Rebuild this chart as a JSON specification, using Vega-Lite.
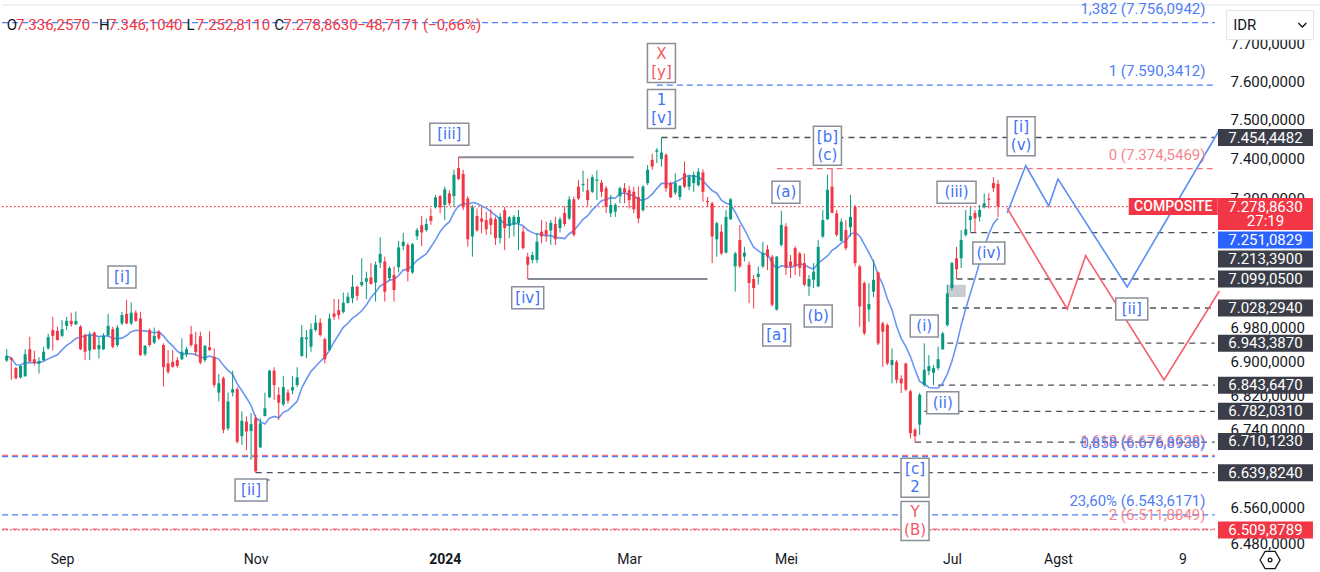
{
"$schema":"https://vega.github.io/schema/vega-lite/v6.json",
"width":1320,"height":572,"padding":0,"autosize":{"type":"none"},"background":"#ffffff",
"config":{"view":{"stroke":null},"font":"Roboto","locale":{"number":{"decimal":",","thousands":".","grouping":[3],"currency":["",""]}}},
"datasets":{
"candles":[
{"d":"2023-08-15","o":6902,"h":6929,"l":6899,"c":6913},
{"d":"2023-08-16","o":6907,"h":6910,"l":6856,"c":6903},
{"d":"2023-08-18","o":6884,"h":6887,"l":6857,"c":6860},
{"d":"2023-08-21","o":6862,"h":6891,"l":6859,"c":6889},
{"d":"2023-08-22","o":6865,"h":6929,"l":6863,"c":6917},
{"d":"2023-08-23","o":6929,"h":6959,"l":6897,"c":6900},
{"d":"2023-08-24","o":6905,"h":6925,"l":6890,"c":6896},
{"d":"2023-08-25","o":6894,"h":6910,"l":6871,"c":6901},
{"d":"2023-08-28","o":6903,"h":6935,"l":6901,"c":6923},
{"d":"2023-08-29","o":6931,"h":6966,"l":6928,"c":6958},
{"d":"2023-08-30","o":6975,"h":7007,"l":6926,"c":6961},
{"d":"2023-08-31","o":6973,"h":6983,"l":6950,"c":6951},
{"d":"2023-09-01","o":6961,"h":6999,"l":6958,"c":6977},
{"d":"2023-09-04","o":6985,"h":7007,"l":6975,"c":6997},
{"d":"2023-09-05","o":6997,"h":7017,"l":6983,"c":6989},
{"d":"2023-09-06","o":6989,"h":7020,"l":6987,"c":6997},
{"d":"2023-09-07","o":6983,"h":6987,"l":6927,"c":6929},
{"d":"2023-09-08","o":6963,"h":6967,"l":6903,"c":6923},
{"d":"2023-09-11","o":6926,"h":6971,"l":6903,"c":6963},
{"d":"2023-09-12","o":6969,"h":6971,"l":6927,"c":6929},
{"d":"2023-09-13","o":6929,"h":6959,"l":6907,"c":6939},
{"d":"2023-09-14","o":6929,"h":6967,"l":6927,"c":6961},
{"d":"2023-09-15","o":6963,"h":7014,"l":6958,"c":6985},
{"d":"2023-09-18","o":6977,"h":6983,"l":6931,"c":6935},
{"d":"2023-09-19","o":6939,"h":6987,"l":6934,"c":6981},
{"d":"2023-09-20","o":6991,"h":7019,"l":6987,"c":7011},
{"d":"2023-09-21","o":7014,"h":7048,"l":6989,"c":6991},
{"d":"2023-09-22","o":6991,"h":7042,"l":6987,"c":7017},
{"d":"2023-09-25","o":7017,"h":7023,"l":6995,"c":6997},
{"d":"2023-09-26","o":7003,"h":7019,"l":6913,"c":6915},
{"d":"2023-09-27","o":6917,"h":6939,"l":6913,"c":6937},
{"d":"2023-09-29","o":6975,"h":6979,"l":6935,"c":6939},
{"d":"2023-10-02","o":6945,"h":6981,"l":6941,"c":6961},
{"d":"2023-10-03","o":6971,"h":6975,"l":6951,"c":6955},
{"d":"2023-10-04","o":6939,"h":6943,"l":6840,"c":6886},
{"d":"2023-10-05","o":6895,"h":6927,"l":6870,"c":6875},
{"d":"2023-10-06","o":6899,"h":6927,"l":6885,"c":6887},
{"d":"2023-10-09","o":6903,"h":6910,"l":6885,"c":6889},
{"d":"2023-10-10","o":6905,"h":6955,"l":6903,"c":6923},
{"d":"2023-10-11","o":6917,"h":6935,"l":6910,"c":6929},
{"d":"2023-10-12","o":6965,"h":6985,"l":6935,"c":6939},
{"d":"2023-10-13","o":6941,"h":6971,"l":6913,"c":6922},
{"d":"2023-10-16","o":6960,"h":6971,"l":6893,"c":6897},
{"d":"2023-10-17","o":6903,"h":6939,"l":6898,"c":6937},
{"d":"2023-10-18","o":6934,"h":6972,"l":6925,"c":6927},
{"d":"2023-10-19","o":6911,"h":6931,"l":6838,"c":6844},
{"d":"2023-10-20","o":6826,"h":6870,"l":6805,"c":6848},
{"d":"2023-10-23","o":6860,"h":6864,"l":6731,"c":6739},
{"d":"2023-10-24","o":6742,"h":6826,"l":6737,"c":6805},
{"d":"2023-10-25","o":6826,"h":6878,"l":6817,"c":6834},
{"d":"2023-10-26","o":6834,"h":6839,"l":6707,"c":6711},
{"d":"2023-10-27","o":6724,"h":6782,"l":6704,"c":6760},
{"d":"2023-10-30","o":6758,"h":6770,"l":6692,"c":6735},
{"d":"2023-10-31","o":6736,"h":6778,"l":6669,"c":6752},
{"d":"2023-11-01","o":6766,"h":6774,"l":6639.824,"c":6643},
{"d":"2023-11-02","o":6698,"h":6766,"l":6697,"c":6754},
{"d":"2023-11-03","o":6771,"h":6826,"l":6770,"c":6789},
{"d":"2023-11-06","o":6815,"h":6880,"l":6813,"c":6878},
{"d":"2023-11-07","o":6878,"h":6886,"l":6809,"c":6844},
{"d":"2023-11-08","o":6821,"h":6839,"l":6762,"c":6802},
{"d":"2023-11-09","o":6798,"h":6865,"l":6794,"c":6839},
{"d":"2023-11-10","o":6826,"h":6834,"l":6800,"c":6807},
{"d":"2023-11-13","o":6831,"h":6865,"l":6822,"c":6839},
{"d":"2023-11-14","o":6844,"h":6886,"l":6839,"c":6862},
{"d":"2023-11-15","o":6913,"h":6987,"l":6911,"c":6958},
{"d":"2023-11-16","o":6953,"h":6975,"l":6907,"c":6957},
{"d":"2023-11-17","o":6935,"h":6991,"l":6923,"c":6977},
{"d":"2023-11-20","o":6975,"h":7011,"l":6971,"c":6993},
{"d":"2023-11-21","o":6993,"h":7003,"l":6959,"c":6963},
{"d":"2023-11-22","o":6953,"h":6957,"l":6895,"c":6905},
{"d":"2023-11-23","o":6927,"h":7015,"l":6926,"c":7003},
{"d":"2023-11-24","o":7015,"h":7050,"l":6999,"c":7007},
{"d":"2023-11-27","o":7023,"h":7050,"l":7001,"c":7011},
{"d":"2023-11-28","o":7019,"h":7066,"l":7015,"c":7041},
{"d":"2023-11-29","o":7041,"h":7066,"l":7039,"c":7056},
{"d":"2023-11-30","o":7052,"h":7109,"l":7040,"c":7080},
{"d":"2023-12-01","o":7080,"h":7083,"l":7047,"c":7058},
{"d":"2023-12-04","o":7084,"h":7150,"l":7080,"c":7092},
{"d":"2023-12-05","o":7092,"h":7117,"l":7050,"c":7101},
{"d":"2023-12-06","o":7103,"h":7138,"l":7085,"c":7087},
{"d":"2023-12-07","o":7090,"h":7142,"l":7044,"c":7134},
{"d":"2023-12-08","o":7139,"h":7202,"l":7126,"c":7161},
{"d":"2023-12-11","o":7142,"h":7154,"l":7044,"c":7068},
{"d":"2023-12-12","o":7101,"h":7130,"l":7095,"c":7126},
{"d":"2023-12-13","o":7109,"h":7130,"l":7044,"c":7072},
{"d":"2023-12-14","o":7128,"h":7193,"l":7115,"c":7177},
{"d":"2023-12-15","o":7180,"h":7213,"l":7170,"c":7191},
{"d":"2023-12-18","o":7183,"h":7188,"l":7093,"c":7117},
{"d":"2023-12-19","o":7115,"h":7188,"l":7112,"c":7185},
{"d":"2023-12-20","o":7205,"h":7225,"l":7195,"c":7220},
{"d":"2023-12-21","o":7232,"h":7255,"l":7180,"c":7214},
{"d":"2023-12-22","o":7220,"h":7249,"l":7216,"c":7235},
{"d":"2023-12-27","o":7255,"h":7274,"l":7233,"c":7243},
{"d":"2023-12-28","o":7277,"h":7308,"l":7274,"c":7302},
{"d":"2023-12-29","o":7305,"h":7308,"l":7262,"c":7277},
{"d":"2024-01-02","o":7283,"h":7329,"l":7245,"c":7322},
{"d":"2024-01-03","o":7312,"h":7320,"l":7280,"c":7287},
{"d":"2024-01-04","o":7305,"h":7372,"l":7277,"c":7359},
{"d":"2024-01-05","o":7376,"h":7404,"l":7346,"c":7348},
{"d":"2024-01-08","o":7361,"h":7372,"l":7270,"c":7277},
{"d":"2024-01-09","o":7299,"h":7305,"l":7179,"c":7197},
{"d":"2024-01-10","o":7204,"h":7283,"l":7154,"c":7277},
{"d":"2024-01-11","o":7255,"h":7274,"l":7216,"c":7219},
{"d":"2024-01-12","o":7249,"h":7278,"l":7212,"c":7241},
{"d":"2024-01-15","o":7245,"h":7266,"l":7208,"c":7222},
{"d":"2024-01-16","o":7249,"h":7272,"l":7208,"c":7233},
{"d":"2024-01-17","o":7247,"h":7253,"l":7183,"c":7200},
{"d":"2024-01-18","o":7200,"h":7262,"l":7187,"c":7253},
{"d":"2024-01-19","o":7270,"h":7278,"l":7170,"c":7225},
{"d":"2024-01-22","o":7230,"h":7255,"l":7200,"c":7252},
{"d":"2024-01-23","o":7233,"h":7258,"l":7204,"c":7253},
{"d":"2024-01-24","o":7237,"h":7270,"l":7170,"c":7253},
{"d":"2024-01-25","o":7216,"h":7229,"l":7172,"c":7175},
{"d":"2024-01-26","o":7154,"h":7164,"l":7099,"c":7134},
{"d":"2024-01-29","o":7146,"h":7166,"l":7138,"c":7158},
{"d":"2024-01-30","o":7146,"h":7212,"l":7138,"c":7191},
{"d":"2024-01-31","o":7216,"h":7245,"l":7187,"c":7204},
{"d":"2024-02-01","o":7220,"h":7241,"l":7191,"c":7208},
{"d":"2024-02-02","o":7219,"h":7245,"l":7183,"c":7238},
{"d":"2024-02-05","o":7235,"h":7253,"l":7183,"c":7197},
{"d":"2024-02-06","o":7225,"h":7253,"l":7214,"c":7247},
{"d":"2024-02-07","o":7263,"h":7280,"l":7229,"c":7235},
{"d":"2024-02-12","o":7249,"h":7305,"l":7245,"c":7297},
{"d":"2024-02-13","o":7297,"h":7304,"l":7204,"c":7208},
{"d":"2024-02-15","o":7329,"h":7346,"l":7295,"c":7299},
{"d":"2024-02-16","o":7333,"h":7370,"l":7316,"c":7336},
{"d":"2024-02-19","o":7320,"h":7350,"l":7280,"c":7295},
{"d":"2024-02-20","o":7316,"h":7359,"l":7313,"c":7353},
{"d":"2024-02-21","o":7344,"h":7370,"l":7295,"c":7347},
{"d":"2024-02-22","o":7339,"h":7346,"l":7303,"c":7316},
{"d":"2024-02-23","o":7325,"h":7331,"l":7263,"c":7278},
{"d":"2024-02-26","o":7262,"h":7308,"l":7252,"c":7283},
{"d":"2024-02-27","o":7266,"h":7287,"l":7253,"c":7283},
{"d":"2024-02-28","o":7305,"h":7329,"l":7287,"c":7325},
{"d":"2024-02-29","o":7325,"h":7338,"l":7287,"c":7314},
{"d":"2024-03-01","o":7320,"h":7331,"l":7274,"c":7295},
{"d":"2024-03-04","o":7316,"h":7329,"l":7262,"c":7272},
{"d":"2024-03-05","o":7303,"h":7329,"l":7237,"c":7249},
{"d":"2024-03-06","o":7270,"h":7333,"l":7266,"c":7329},
{"d":"2024-03-07","o":7338,"h":7384,"l":7333,"c":7372},
{"d":"2024-03-08","o":7397,"h":7413,"l":7372,"c":7380},
{"d":"2024-03-13","o":7418,"h":7427,"l":7389,"c":7422},
{"d":"2024-03-14","o":7399,"h":7454.4482,"l":7380,"c":7416},
{"d":"2024-03-15","o":7410,"h":7414,"l":7316,"c":7325},
{"d":"2024-03-18","o":7338,"h":7342,"l":7300,"c":7302},
{"d":"2024-03-19","o":7314,"h":7363,"l":7308,"c":7338},
{"d":"2024-03-20","o":7303,"h":7333,"l":7295,"c":7331},
{"d":"2024-03-21","o":7363,"h":7393,"l":7325,"c":7329},
{"d":"2024-03-22","o":7329,"h":7359,"l":7320,"c":7354},
{"d":"2024-03-25","o":7338,"h":7367,"l":7316,"c":7359},
{"d":"2024-03-26","o":7333,"h":7376,"l":7329,"c":7367},
{"d":"2024-03-27","o":7365,"h":7373,"l":7291,"c":7316},
{"d":"2024-03-28","o":7293,"h":7303,"l":7278,"c":7290},
{"d":"2024-04-01","o":7287,"h":7291,"l":7138,"c":7204},
{"d":"2024-04-02","o":7197,"h":7241,"l":7154,"c":7237},
{"d":"2024-04-03","o":7216,"h":7233,"l":7158,"c":7162},
{"d":"2024-04-04","o":7164,"h":7270,"l":7162,"c":7253},
{"d":"2024-04-05","o":7247,"h":7300,"l":7245,"c":7297},
{"d":"2024-04-16","o":7130,"h":7166,"l":7068,"c":7162},
{"d":"2024-04-17","o":7195,"h":7233,"l":7126,"c":7130},
{"d":"2024-04-18","o":7154,"h":7178,"l":7142,"c":7164},
{"d":"2024-04-19","o":7134,"h":7142,"l":7040,"c":7089},
{"d":"2024-04-22","o":7099,"h":7109,"l":7027,"c":7077},
{"d":"2024-04-23","o":7104,"h":7130,"l":7085,"c":7112},
{"d":"2024-04-24","o":7130,"h":7191,"l":7126,"c":7164},
{"d":"2024-04-25","o":7172,"h":7183,"l":7121,"c":7154},
{"d":"2024-04-26","o":7154,"h":7158,"l":7032,"c":7036},
{"d":"2024-04-29","o":7024,"h":7156,"l":7022,"c":7154},
{"d":"2024-04-30","o":7183,"h":7268,"l":7179,"c":7233},
{"d":"2024-05-02","o":7229,"h":7237,"l":7109,"c":7126},
{"d":"2024-05-03","o":7142,"h":7158,"l":7101,"c":7130},
{"d":"2024-05-06","o":7175,"h":7180,"l":7109,"c":7130},
{"d":"2024-05-07","o":7162,"h":7166,"l":7105,"c":7126},
{"d":"2024-05-08","o":7138,"h":7162,"l":7081,"c":7085},
{"d":"2024-05-13","o":7081,"h":7109,"l":7058,"c":7099},
{"d":"2024-05-14","o":7097,"h":7138,"l":7077,"c":7117},
{"d":"2024-05-15","o":7081,"h":7195,"l":7079,"c":7178},
{"d":"2024-05-16","o":7204,"h":7270,"l":7200,"c":7245},
{"d":"2024-05-17","o":7247,"h":7359,"l":7245,"c":7321},
{"d":"2024-05-20","o":7329,"h":7374.5469,"l":7262,"c":7263},
{"d":"2024-05-21","o":7262,"h":7270,"l":7204,"c":7208},
{"d":"2024-05-22","o":7193,"h":7249,"l":7191,"c":7241},
{"d":"2024-05-27","o":7220,"h":7245,"l":7170,"c":7175},
{"d":"2024-05-28","o":7227,"h":7308,"l":7204,"c":7253},
{"d":"2024-05-29","o":7278,"h":7283,"l":7130,"c":7138},
{"d":"2024-05-30","o":7130,"h":7134,"l":6983,"c":7032},
{"d":"2024-05-31","o":7089,"h":7093,"l":6963,"c":6967},
{"d":"2024-06-03","o":7025,"h":7089,"l":6995,"c":7038},
{"d":"2024-06-04","o":7068,"h":7146,"l":7055,"c":7097},
{"d":"2024-06-05","o":7115,"h":7117,"l":6939,"c":6943},
{"d":"2024-06-06","o":6991,"h":6995,"l":6887,"c":6971},
{"d":"2024-06-07","o":6987,"h":6991,"l":6891,"c":6895},
{"d":"2024-06-10","o":6891,"h":6931,"l":6848,"c":6903},
{"d":"2024-06-11","o":6899,"h":6903,"l":6848,"c":6856},
{"d":"2024-06-12","o":6859,"h":6867,"l":6825,"c":6848},
{"d":"2024-06-13","o":6895,"h":6897,"l":6829,"c":6833},
{"d":"2024-06-14","o":6829,"h":6833,"l":6719,"c":6731},
{"d":"2024-06-19","o":6739,"h":6743,"l":6710.123,"c":6724},
{"d":"2024-06-20","o":6751,"h":6825,"l":6727,"c":6821},
{"d":"2024-06-21","o":6844,"h":6943,"l":6840,"c":6880},
{"d":"2024-06-24","o":6877,"h":6915,"l":6867,"c":6889},
{"d":"2024-06-25","o":6873,"h":6891,"l":6843.647,"c":6884},
{"d":"2024-06-26","o":6884,"h":6935,"l":6879,"c":6905},
{"d":"2024-06-27","o":6929,"h":6971,"l":6927,"c":6967},
{"d":"2024-06-28","o":6987,"h":7085,"l":6983,"c":7064},
{"d":"2024-07-01","o":7077,"h":7142,"l":7072,"c":7138},
{"d":"2024-07-02","o":7150,"h":7178,"l":7099.05,"c":7123},
{"d":"2024-07-03","o":7150,"h":7220,"l":7126,"c":7195},
{"d":"2024-07-04","o":7208,"h":7270,"l":7204,"c":7222},
{"d":"2024-07-05","o":7245,"h":7278,"l":7216,"c":7255},
{"d":"2024-07-08","o":7263,"h":7270,"l":7213.39,"c":7249},
{"d":"2024-07-09","o":7253,"h":7283,"l":7241,"c":7270},
{"d":"2024-07-10","o":7277,"h":7312,"l":7274,"c":7287},
{"d":"2024-07-11","o":7299,"h":7312,"l":7274,"c":7296},
{"d":"2024-07-12","o":7338,"h":7353,"l":7316,"c":7325},
{"d":"2024-07-15","o":7336.257,"h":7346.104,"l":7252.811,"c":7278.863}
],
"levels":[
{"p":7756.0942,"d":"2023-08-14","d2":"2024-09-18","k":"fib"},
{"p":7590.3412,"d":"2024-03-13","d2":"2024-09-18","k":"fib"},
{"p":7454.4482,"d":"2024-03-14","d2":"2024-09-18","k":"lvl"},
{"p":7374.5469,"d":"2024-04-29","d2":"2024-09-18","k":"fibred"},
{"p":7278.863,"d":"2023-08-14","d2":"2024-09-18","k":"last"},
{"p":7213.39,"d":"2024-07-05","d2":"2024-09-18","k":"lvl"},
{"p":7099.05,"d":"2024-07-02","d2":"2024-09-18","k":"lvl"},
{"p":7028.294,"d":"2024-07-01","d2":"2024-09-18","k":"lvl"},
{"p":6943.387,"d":"2024-06-28","d2":"2024-09-18","k":"lvl"},
{"p":6843.647,"d":"2024-06-26","d2":"2024-09-18","k":"lvl"},
{"p":6782.031,"d":"2024-06-21","d2":"2024-09-18","k":"lvl"},
{"p":6710.123,"d":"2024-06-19","d2":"2024-09-18","k":"lvl"},
{"p":6679.5,"d":"2023-08-14","d2":"2024-09-18","k":"fibred"},
{"p":6676.8938,"d":"2023-08-14","d2":"2024-09-18","k":"fib"},
{"p":6639.824,"d":"2023-11-01","d2":"2024-09-18","k":"lvl"},
{"p":6543.6171,"d":"2023-08-14","d2":"2024-09-18","k":"fib"},
{"p":6511.8849,"d":"2023-08-14","d2":"2024-09-18","k":"fibred"},
{"p":6509.8789,"d":"2023-08-14","d2":"2024-09-18","k":"last"},
{"p":7803.4,"d":"2023-08-14","d2":"2024-10-21","k":"border"}
],
"trend":[
{"d":"2024-01-05","d2":"2024-03-04","p":7403.5},
{"d":"2024-01-26","d2":"2024-03-28","p":7099},
{"d":"2023-10-26","d2":"2023-11-06","p":6623}
],
"zone":[{"d":"2024-06-28","d2":"2024-07-04","p1":7055,"p2":7085}],
"proj":[
{"d":"2024-07-17","p":7262.6,"path":"b"},
{"d":"2024-07-23","p":7382.2,"path":"b"},
{"d":"2024-07-30","p":7280.2,"path":"b"},
{"d":"2024-08-01","p":7348.4,"path":"b"},
{"d":"2024-08-22","p":7079.5,"path":"b"},
{"d":"2024-09-19","p":7473.8,"path":"b"},
{"d":"2024-07-17","p":7274.4,"path":"r"},
{"d":"2024-08-05","p":7025.9,"path":"r"},
{"d":"2024-08-09","p":7156.4,"path":"r"},
{"d":"2024-09-03","p":6855.7,"path":"r"},
{"d":"2024-09-19","p":7069.7,"path":"r"}
],
"lvlLabels":[
{"t":"1,382 (7.756,0942)","d":"2024-09-16","p":7756.0942,"g":"b"},
{"t":"1 (7.590,3412)","d":"2024-09-16","p":7590.3412,"g":"b"},
{"t":"0 (7.374,5469)","d":"2024-09-16","p":7374.5469,"g":"r"},
{"t":"1,618 (6.676,6528)","d":"2024-09-16","p":6679.5,"g":"r"},
{"t":"0,858 (6.676,8938)","d":"2024-09-16","p":6676.8938,"g":"b"},
{"t":"23,60% (6.543,6171)","d":"2024-09-16","p":6543.6171,"g":"b"},
{"t":"2 (6.511,8849)","d":"2024-09-16","p":6511.8849,"g":"r"}
],
"waves":[
{"t":"[i]","d":"2023-09-20","p":7104,"g":"b"},
{"t":"[ii]","d":"2023-10-31","p":6600,"g":"b"},
{"t":"[iii]","d":"2024-01-03","p":7463,"g":"b"},
{"t":"[iv]","d":"2024-01-26","p":7053,"g":"b"},
{"t":"1|[v]","d":"2024-03-14","p":7528,"g":"b"},
{"t":"X|[y]","d":"2024-03-14","p":7649,"g":"r"},
{"t":"[b]|(c)","d":"2024-05-17","p":7433,"g":"b"},
{"t":"(a)","d":"2024-05-02","p":7315,"g":"b"},
{"t":"[a]","d":"2024-04-29","p":6963,"g":"b"},
{"t":"(b)","d":"2024-05-15","p":7009,"g":"b"},
{"t":"(i)","d":"2024-06-21","p":6985,"g":"b"},
{"t":"(ii)","d":"2024-06-27","p":6802,"g":"b"},
{"t":"(iii)","d":"2024-07-02","p":7315,"g":"b"},
{"t":"(iv)","d":"2024-07-11","p":7163,"g":"b"},
{"t":"[i]|(v)","d":"2024-07-22","p":7458,"g":"b"},
{"t":"[ii]","d":"2024-08-23","p":7026,"g":"b"},
{"t":"[c]|2","d":"2024-06-19","p":6628,"g":"b"},
{"t":"Y|(B)","d":"2024-06-19","p":6530,"g":"r"}
],
"header":[
{"t":"O","d":"2023-08-15","k":"key"},
{"t":"7.336,2570","d":"2023-08-18","k":"val"},
{"t":"H","d":"2023-09-13","k":"key"},
{"t":"7.346,1040","d":"2023-09-15","k":"val"},
{"t":"L","d":"2023-10-11","k":"key"},
{"t":"7.252,8110","d":"2023-10-13","k":"val"},
{"t":"C","d":"2023-11-07","k":"key"},
{"t":"7.278,8630","d":"2023-11-09","k":"val"},
{"t":"−48,7171 (−0,66%)","d":"2023-12-01","k":"val"}
],
"tags":[
{"t":"7.454,4482","d":"2024-10-03","at":7454.45,"k":"dark"},
{"t":"7.278,8630|27:19","d":"2024-10-03","at":7260.1,"k":"red2"},
{"t":"7.251,0829","d":"2024-10-03","at":7195.3,"k":"blue"},
{"t":"7.213,3900","d":"2024-10-03","at":7148.1,"k":"dark"},
{"t":"7.099,0500","d":"2024-10-03","at":7099.0,"k":"dark"},
{"t":"7.028,2940","d":"2024-10-03","at":7028.3,"k":"dark"},
{"t":"6.943,3870","d":"2024-10-03","at":6943.4,"k":"dark"},
{"t":"6.843,6470","d":"2024-10-03","at":6843.6,"k":"dark"},
{"t":"6.782,0310","d":"2024-10-03","at":6782.0,"k":"dark"},
{"t":"6.710,1230","d":"2024-10-03","at":6712.0,"k":"dark"},
{"t":"6.639,8240","d":"2024-10-03","at":6639.8,"k":"dark"},
{"t":"6.509,8789","d":"2024-10-03","at":6509.9,"k":"red"}
],
"ui":[
{"t":"COMPOSITE","d":"2024-09-05","p":7278.863,"k":"comp"},
{"t":"IDR","d":"2024-10-04","p":7749.5,"k":"box"},
{"t":"IDR","d":"2024-09-24","p":7749.5,"k":"idr"},
{"t":"","d":"2024-10-15","p":7749.5,"k":"chev"},
{"t":"","d":"2024-10-04","p":6442.7,"k":"gear"}
]
},
"encoding":{"x":{"field":"d","type":"ordinal",
 "scale":{"type":"point","padding":0,"range":[2.09,1320.8],"domain":["2023-08-14","2023-08-15","2023-08-16","2023-08-18","2023-08-21","2023-08-22","2023-08-23","2023-08-24","2023-08-25","2023-08-28","2023-08-29","2023-08-30","2023-08-31","2023-09-01","2023-09-04","2023-09-05","2023-09-06","2023-09-07","2023-09-08","2023-09-11","2023-09-12","2023-09-13","2023-09-14","2023-09-15","2023-09-18","2023-09-19","2023-09-20","2023-09-21","2023-09-22","2023-09-25","2023-09-26","2023-09-27","2023-09-29","2023-10-02","2023-10-03","2023-10-04","2023-10-05","2023-10-06","2023-10-09","2023-10-10","2023-10-11","2023-10-12","2023-10-13","2023-10-16","2023-10-17","2023-10-18","2023-10-19","2023-10-20","2023-10-23","2023-10-24","2023-10-25","2023-10-26","2023-10-27","2023-10-30","2023-10-31","2023-11-01","2023-11-02","2023-11-03","2023-11-06","2023-11-07","2023-11-08","2023-11-09","2023-11-10","2023-11-13","2023-11-14","2023-11-15","2023-11-16","2023-11-17","2023-11-20","2023-11-21","2023-11-22","2023-11-23","2023-11-24","2023-11-27","2023-11-28","2023-11-29","2023-11-30","2023-12-01","2023-12-04","2023-12-05","2023-12-06","2023-12-07","2023-12-08","2023-12-11","2023-12-12","2023-12-13","2023-12-14","2023-12-15","2023-12-18","2023-12-19","2023-12-20","2023-12-21","2023-12-22","2023-12-27","2023-12-28","2023-12-29","2024-01-02","2024-01-03","2024-01-04","2024-01-05","2024-01-08","2024-01-09","2024-01-10","2024-01-11","2024-01-12","2024-01-15","2024-01-16","2024-01-17","2024-01-18","2024-01-19","2024-01-22","2024-01-23","2024-01-24","2024-01-25","2024-01-26","2024-01-29","2024-01-30","2024-01-31","2024-02-01","2024-02-02","2024-02-05","2024-02-06","2024-02-07","2024-02-12","2024-02-13","2024-02-15","2024-02-16","2024-02-19","2024-02-20","2024-02-21","2024-02-22","2024-02-23","2024-02-26","2024-02-27","2024-02-28","2024-02-29","2024-03-01","2024-03-04","2024-03-05","2024-03-06","2024-03-07","2024-03-08","2024-03-13","2024-03-14","2024-03-15","2024-03-18","2024-03-19","2024-03-20","2024-03-21","2024-03-22","2024-03-25","2024-03-26","2024-03-27","2024-03-28","2024-04-01","2024-04-02","2024-04-03","2024-04-04","2024-04-05","2024-04-16","2024-04-17","2024-04-18","2024-04-19","2024-04-22","2024-04-23","2024-04-24","2024-04-25","2024-04-26","2024-04-29","2024-04-30","2024-05-02","2024-05-03","2024-05-06","2024-05-07","2024-05-08","2024-05-13","2024-05-14","2024-05-15","2024-05-16","2024-05-17","2024-05-20","2024-05-21","2024-05-22","2024-05-27","2024-05-28","2024-05-29","2024-05-30","2024-05-31","2024-06-03","2024-06-04","2024-06-05","2024-06-06","2024-06-07","2024-06-10","2024-06-11","2024-06-12","2024-06-13","2024-06-14","2024-06-19","2024-06-20","2024-06-21","2024-06-24","2024-06-25","2024-06-26","2024-06-27","2024-06-28","2024-07-01","2024-07-02","2024-07-03","2024-07-04","2024-07-05","2024-07-08","2024-07-09","2024-07-10","2024-07-11","2024-07-12","2024-07-15","2024-07-16","2024-07-17","2024-07-18","2024-07-19","2024-07-22","2024-07-23","2024-07-24","2024-07-25","2024-07-26","2024-07-29","2024-07-30","2024-07-31","2024-08-01","2024-08-02","2024-08-05","2024-08-06","2024-08-07","2024-08-08","2024-08-09","2024-08-12","2024-08-13","2024-08-14","2024-08-15","2024-08-16","2024-08-19","2024-08-20","2024-08-21","2024-08-22","2024-08-23","2024-08-26","2024-08-27","2024-08-28","2024-08-29","2024-08-30","2024-09-02","2024-09-03","2024-09-04","2024-09-05","2024-09-06","2024-09-09","2024-09-10","2024-09-11","2024-09-12","2024-09-13","2024-09-16","2024-09-17","2024-09-18","2024-09-19","2024-09-20","2024-09-23","2024-09-24","2024-09-25","2024-09-26","2024-09-27","2024-09-30","2024-10-01","2024-10-02","2024-10-03","2024-10-04","2024-10-07","2024-10-08","2024-10-09","2024-10-10","2024-10-11","2024-10-14","2024-10-15","2024-10-16","2024-10-17","2024-10-18","2024-10-21"]},
 "axis":{"values":["2023-09-01","2023-11-01","2024-01-02","2024-03-01","2024-05-02","2024-07-01","2024-08-01","2024-09-09"],
  "title":null,"orient":"bottom","offset":-24,"domain":false,"ticks":false,"grid":false,"labelPadding":4,"labelFontSize":14,"labelColor":"#131722","labelFont":"Roboto","labelAngle":0,"labelFlush":false,"labelOverlap":false,"labelAlign":"center",
  "labelFontWeight":{"condition":{"test":"datum.value=='2024-01-02'","value":"bold"},"value":"normal"},
  "labelExpr":"datum.value=='2023-09-01' ? 'Sep' : datum.value=='2023-11-01' ? 'Nov' : datum.value=='2024-01-02' ? '2024' : datum.value=='2024-03-01' ? 'Mar' : datum.value=='2024-05-02' ? 'Mei' : datum.value=='2024-07-01' ? 'Jul' : datum.value=='2024-08-01' ? 'Agst' : '9'"}}},
"layer":[
{"data":{"name":"levels"},"transform":[{"filter":"datum.k=='border'"}],
 "mark":{"type":"rule","color":"#e0e3eb","strokeWidth":1},
 "encoding":{"x2":{"field":"d2"},"y":{"field":"p","type":"quantitative","title":null,"scale":{"type":"log","nice":false,"domain":[6469.4,7816.9],"range":[548,0]}}}},
{"data":{"name":"levels"},"transform":[{"filter":"datum.k=='fib'"}],
 "mark":{"type":"rule","color":"#4f7ef5","strokeDash":[6,4],"strokeWidth":1.2},
 "encoding":{"x2":{"field":"d2"},"y":{"field":"p","type":"quantitative","title":null,"scale":{"type":"log","nice":false,"domain":[6469.4,7816.9],"range":[548,0]}}}},
{"data":{"name":"levels"},"transform":[{"filter":"datum.k=='fibred'"}],
 "mark":{"type":"rule","color":"#f4727b","strokeDash":[6,4],"strokeWidth":1.2},
 "encoding":{"x2":{"field":"d2"},"y":{"field":"p","type":"quantitative","title":null,"scale":{"type":"log","nice":false,"domain":[6469.4,7816.9],"range":[548,0]}}}},
{"data":{"name":"levels"},"transform":[{"filter":"datum.k=='lvl'"}],
 "mark":{"type":"rule","color":"#4c4f59","strokeDash":[6,5],"strokeWidth":1.3},
 "encoding":{"x2":{"field":"d2"},"y":{"field":"p","type":"quantitative","title":null,"scale":{"type":"log","nice":false,"domain":[6469.4,7816.9],"range":[548,0]}}}},
{"data":{"name":"levels"},"transform":[{"filter":"datum.k=='last'"}],
 "mark":{"type":"rule","color":"#f23645","strokeDash":[1.5,2.5],"strokeWidth":1.2},
 "encoding":{"x2":{"field":"d2"},"y":{"field":"p","type":"quantitative","title":null,"scale":{"type":"log","nice":false,"domain":[6469.4,7816.9],"range":[548,0]}}}},
{"data":{"name":"trend"},
 "mark":{"type":"rule","color":"#868a95","strokeWidth":2},
 "encoding":{"x2":{"field":"d2"},"y":{"field":"p","type":"quantitative","title":null,"scale":{"type":"log","nice":false,"domain":[6469.4,7816.9],"range":[548,0]}}}},
{"data":{"name":"zone"},
 "mark":{"type":"rect","color":"#b8bbc4","opacity":0.75},
 "encoding":{"x2":{"field":"d2"},"y":{"field":"p1","type":"quantitative","title":null,"scale":{"type":"log","nice":false,"domain":[6469.4,7816.9],"range":[548,0]}},"y2":{"field":"p2"}}},
{"data":{"name":"candles"},"transform":[{"window":[{"op":"mean","field":"c","as":"ma"}],"frame":[-9,0],"sort":[{"field":"d"}]}],
 "mark":{"type":"line","color":"#5a8af2","strokeWidth":1.6,"opacity":0.9},
 "encoding":{"y":{"field":"ma","type":"quantitative","title":null,"scale":{"type":"log","nice":false,"domain":[6469.4,7816.9],"range":[548,0]}}}},
{"data":{"name":"candles"},
 "mark":{"type":"rule","strokeWidth":1},
 "encoding":{"y":{"field":"l","type":"quantitative","title":null,"scale":{"type":"log","nice":false,"domain":[6469.4,7816.9],"range":[548,0]},
  "axis":{"orient":"right","offset":-105,"values":[6480,6560,6740,6820,6900,6980,7100,7200,7300,7400,7500,7600,7700],"format":",.4f","title":null,"domain":false,"ticks":false,"grid":false,"labelAlign":"left","labelPadding":15,"labelFontSize":15,"labelColor":"#131722","labelFont":"Roboto","labelOverlap":false,"labelFlush":false}},
  "y2":{"field":"h"},
  "color":{"condition":{"test":"datum.c >= datum.o","value":"#089981"},"value":"#f23645"}}},
{"data":{"name":"candles"},
 "mark":{"type":"rule","strokeWidth":3},
 "encoding":{"y":{"field":"o","type":"quantitative","title":null,"scale":{"type":"log","nice":false,"domain":[6469.4,7816.9],"range":[548,0]}},"y2":{"field":"c"},
  "color":{"condition":{"test":"datum.c >= datum.o","value":"#089981"},"value":"#f23645"}}},
{"data":{"name":"proj"},"transform":[{"filter":"datum.path=='b'"}],
 "mark":{"type":"line","color":"#5b8ef5","strokeWidth":1.6},
 "encoding":{"y":{"field":"p","type":"quantitative","title":null,"scale":{"type":"log","nice":false,"domain":[6469.4,7816.9],"range":[548,0]}}}},
{"data":{"name":"proj"},"transform":[{"filter":"datum.path=='r'"}],
 "mark":{"type":"line","color":"#f5606c","strokeWidth":1.6},
 "encoding":{"y":{"field":"p","type":"quantitative","title":null,"scale":{"type":"log","nice":false,"domain":[6469.4,7816.9],"range":[548,0]}}}},
{"data":{"name":"lvlLabels"},"transform":[{"filter":"datum.g=='r'"}],
 "mark":{"type":"text","align":"right","baseline":"middle","dy":-14,"fontSize":15,"font":"Roboto","color":"#f4727b","opacity":0.85},
 "encoding":{"y":{"field":"p","type":"quantitative","title":null,"scale":{"type":"log","nice":false,"domain":[6469.4,7816.9],"range":[548,0]}},"text":{"field":"t"}}},
{"data":{"name":"lvlLabels"},"transform":[{"filter":"datum.g=='b'"}],
 "mark":{"type":"text","align":"right","baseline":"middle","dy":-14,"fontSize":15,"font":"Roboto","color":"#4f7ef5"},
 "encoding":{"y":{"field":"p","type":"quantitative","title":null,"scale":{"type":"log","nice":false,"domain":[6469.4,7816.9],"range":[548,0]}},"text":{"field":"t"}}},
{"data":{"name":"waves"},"transform":[{"filter":"indexof(datum.t,'|')<0 && length(datum.t)==3"}],
 "mark":{"type":"point","shape":"M-0.7,-0.55H0.7V0.55H-0.7Z","size":1600,"filled":true,"color":"#ffffff","stroke":"#8a8e99","strokeWidth":1.5,"opacity":1},
 "encoding":{"y":{"field":"p","type":"quantitative","title":null,"scale":{"type":"log","nice":false,"domain":[6469.4,7816.9],"range":[548,0]}}}},
{"data":{"name":"waves"},"transform":[{"filter":"indexof(datum.t,'|')<0 && length(datum.t)==4"}],
 "mark":{"type":"point","shape":"M-0.8,-0.55H0.8V0.55H-0.8Z","size":1600,"filled":true,"color":"#ffffff","stroke":"#8a8e99","strokeWidth":1.5,"opacity":1},
 "encoding":{"y":{"field":"p","type":"quantitative","title":null,"scale":{"type":"log","nice":false,"domain":[6469.4,7816.9],"range":[548,0]}}}},
{"data":{"name":"waves"},"transform":[{"filter":"indexof(datum.t,'|')<0 && length(datum.t)==5"}],
 "mark":{"type":"point","shape":"M-0.975,-0.55H0.975V0.55H-0.975Z","size":1600,"filled":true,"color":"#ffffff","stroke":"#8a8e99","strokeWidth":1.5,"opacity":1},
 "encoding":{"y":{"field":"p","type":"quantitative","title":null,"scale":{"type":"log","nice":false,"domain":[6469.4,7816.9],"range":[548,0]}}}},
{"data":{"name":"waves"},"transform":[{"filter":"indexof(datum.t,'|')>=0"}],
 "mark":{"type":"point","shape":"M-0.7,-0.975H0.7V0.975H-0.7Z","size":1600,"filled":true,"color":"#ffffff","stroke":"#8a8e99","strokeWidth":1.5,"opacity":1},
 "encoding":{"y":{"field":"p","type":"quantitative","title":null,"scale":{"type":"log","nice":false,"domain":[6469.4,7816.9],"range":[548,0]}}}},
{"data":{"name":"waves"},"transform":[{"filter":"indexof(datum.t,'|')<0"}],
 "mark":{"type":"text","align":"center","baseline":"middle","fontSize":15,"font":"DejaVu Sans"},
 "encoding":{"y":{"field":"p","type":"quantitative","title":null,"scale":{"type":"log","nice":false,"domain":[6469.4,7816.9],"range":[548,0]}},"text":{"field":"t"},
  "color":{"condition":{"test":"datum.g=='r'","value":"#f25863"},"value":"#3f72f5"}}},
{"data":{"name":"waves"},"transform":[{"filter":"indexof(datum.t,'|')>=0"}],
 "mark":{"type":"text","align":"center","baseline":"middle","dy":-9,"fontSize":15,"font":"DejaVu Sans","lineBreak":"|","lineHeight":18},
 "encoding":{"y":{"field":"p","type":"quantitative","title":null,"scale":{"type":"log","nice":false,"domain":[6469.4,7816.9],"range":[548,0]}},"text":{"field":"t"},
  "color":{"condition":{"test":"datum.g=='r'","value":"#f25863"},"value":"#3f72f5"}}},
{"data":{"name":"header"},
 "mark":{"type":"text","align":"left","baseline":"middle","fontSize":15,"font":"Roboto"},
 "encoding":{"y":{"datum":7749.5,"type":"quantitative","title":null,"scale":{"type":"log","nice":false,"domain":[6469.4,7816.9],"range":[548,0]}},"text":{"field":"t"},
  "color":{"condition":{"test":"datum.k=='key'","value":"#131722"},"value":"#f23645"}}},
{"data":{"name":"tags"},"transform":[{"filter":"datum.k!='red2'"}],
 "mark":{"type":"point","shape":"M-0.95,-0.17H0.95V0.17H-0.95Z","size":10000,"filled":true,"opacity":1,"strokeWidth":0},
 "encoding":{"y":{"field":"at","type":"quantitative","title":null,"scale":{"type":"log","nice":false,"domain":[6469.4,7816.9],"range":[548,0]}},
  "color":{"condition":[{"test":"datum.k=='blue'","value":"#2962ff"},{"test":"datum.k=='red'","value":"#f23645"}],"value":"#3b3e48"}}},
{"data":{"name":"tags"},"transform":[{"filter":"datum.k=='red2'"}],
 "mark":{"type":"point","shape":"M-0.95,-0.32H0.95V0.32H-0.95Z","size":10000,"filled":true,"opacity":1,"strokeWidth":0,"color":"#f23645"},
 "encoding":{"y":{"field":"at","type":"quantitative","title":null,"scale":{"type":"log","nice":false,"domain":[6469.4,7816.9],"range":[548,0]}}}},
{"data":{"name":"tags"},"transform":[{"filter":"datum.k!='red2'"}],
 "mark":{"type":"text","align":"center","baseline":"middle","fontSize":15,"font":"Roboto","color":"#ffffff"},
 "encoding":{"y":{"field":"at","type":"quantitative","title":null,"scale":{"type":"log","nice":false,"domain":[6469.4,7816.9],"range":[548,0]}},"text":{"field":"t"}}},
{"data":{"name":"tags"},"transform":[{"filter":"datum.k=='red2'"}],
 "mark":{"type":"text","align":"center","baseline":"middle","dy":-7,"fontSize":15,"font":"Roboto","color":"#ffffff","lineBreak":"|","lineHeight":14},
 "encoding":{"y":{"field":"at","type":"quantitative","title":null,"scale":{"type":"log","nice":false,"domain":[6469.4,7816.9],"range":[548,0]}},"text":{"field":"t"}}},
{"data":{"name":"ui"},"transform":[{"filter":"datum.k=='comp'"}],
 "mark":{"type":"point","shape":"M-0.89,-0.17H0.89V0.17H-0.89Z","size":10000,"filled":true,"opacity":1,"strokeWidth":0,"color":"#f23645"},
 "encoding":{"y":{"field":"p","type":"quantitative","title":null,"scale":{"type":"log","nice":false,"domain":[6469.4,7816.9],"range":[548,0]}}}},
{"data":{"name":"ui"},"transform":[{"filter":"datum.k=='comp'"}],
 "mark":{"type":"text","align":"center","baseline":"middle","fontSize":14,"font":"Roboto","fontWeight":500,"color":"#ffffff"},
 "encoding":{"y":{"field":"p","type":"quantitative","title":null,"scale":{"type":"log","nice":false,"domain":[6469.4,7816.9],"range":[548,0]}},"text":{"field":"t"}}},
{"data":{"name":"ui"},"transform":[{"filter":"datum.k=='box'"}],
 "mark":{"type":"point","shape":"M-0.87,-0.29H0.87V0.29H-0.87Z","size":10000,"filled":true,"opacity":1,"color":"#ffffff","stroke":"#dfe2ea","strokeWidth":1},
 "encoding":{"y":{"field":"p","type":"quantitative","title":null,"scale":{"type":"log","nice":false,"domain":[6469.4,7816.9],"range":[548,0]}}}},
{"data":{"name":"ui"},"transform":[{"filter":"datum.k=='idr'"}],
 "mark":{"type":"text","align":"left","baseline":"middle","fontSize":15,"font":"Roboto","color":"#131722"},
 "encoding":{"y":{"field":"p","type":"quantitative","title":null,"scale":{"type":"log","nice":false,"domain":[6469.4,7816.9],"range":[548,0]}},"text":{"field":"t"}}},
{"data":{"name":"ui"},"transform":[{"filter":"datum.k=='chev'"}],
 "mark":{"type":"point","shape":"M-1,-0.5L0,0.5L1,-0.5","size":64,"filled":false,"opacity":1,"color":"#131722","strokeWidth":1.4},
 "encoding":{"y":{"field":"p","type":"quantitative","title":null,"scale":{"type":"log","nice":false,"domain":[6469.4,7816.9],"range":[548,0]}}}},
{"data":{"name":"ui"},"transform":[{"filter":"datum.k=='gear'"}],
 "mark":{"type":"point","shape":"M-1,0L-0.5,-0.866L0.5,-0.866L1,0L0.5,0.866L-0.5,0.866Z","size":400,"filled":false,"opacity":1,"color":"#131722","strokeWidth":1.3},
 "encoding":{"y":{"field":"p","type":"quantitative","title":null,"scale":{"type":"log","nice":false,"domain":[6469.4,7816.9],"range":[548,0]}}}},
{"data":{"name":"ui"},"transform":[{"filter":"datum.k=='gear'"}],
 "mark":{"type":"point","shape":"circle","size":14,"filled":false,"opacity":1,"color":"#131722","strokeWidth":1.3},
 "encoding":{"y":{"field":"p","type":"quantitative","title":null,"scale":{"type":"log","nice":false,"domain":[6469.4,7816.9],"range":[548,0]}}}}
]
}
